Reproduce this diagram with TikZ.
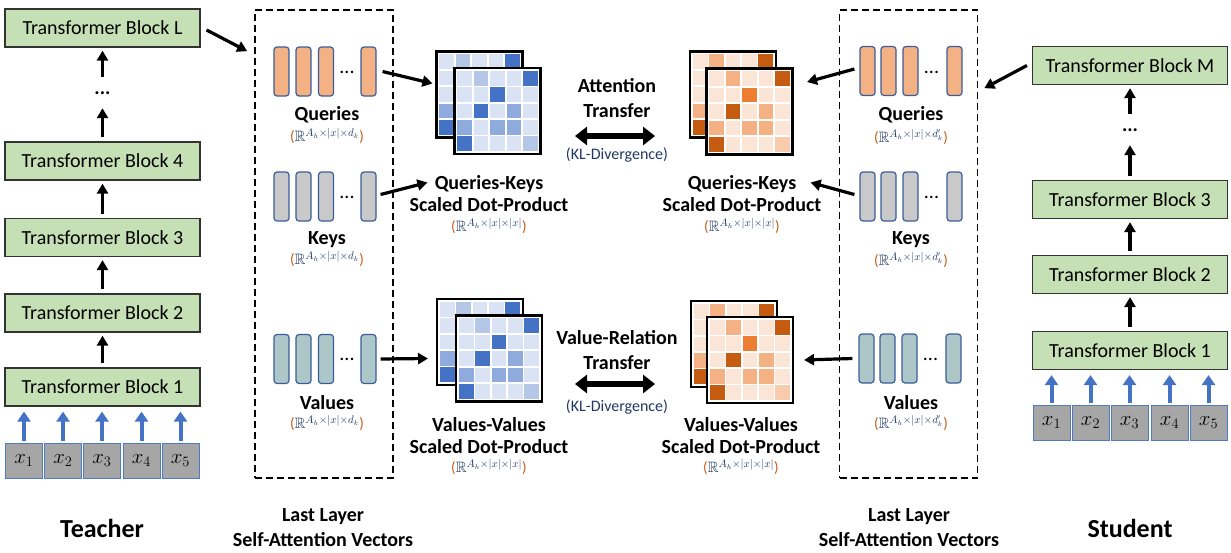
\documentclass[tikz,border=0pt]{standalone}
\usepackage{fontspec}
\setmainfont{Carlito}
\usepackage{amssymb}
\usetikzlibrary{arrows.meta, calc, positioning}

\definecolor{blockgreen}{HTML}{C5E0B4}
\definecolor{tokengray}{HTML}{A6A6A6}
\definecolor{tokenedge}{HTML}{4F7BC4}
\definecolor{arrowblue}{HTML}{4472C4}
\definecolor{baredge}{HTML}{3A5D9C}
\definecolor{qorange}{HTML}{F4B183}
\definecolor{kgray}{HTML}{C9C9C9}
\definecolor{vteal}{HTML}{ADC7C8}
\definecolor{navy}{HTML}{203864}
\definecolor{parcol}{HTML}{C55A11}
% heat map palettes (teacher = bl, student = or)
\definecolor{bl1}{HTML}{DAE3F3}
\definecolor{bl2}{HTML}{B4C7E7}
\definecolor{bl3}{HTML}{8FAADC}
\definecolor{bl4}{HTML}{4472C4}
\definecolor{bl5}{HTML}{4472C4}
\definecolor{bl6}{HTML}{B4C7E7}
\definecolor{or1}{HTML}{FBE5D6}
\definecolor{or2}{HTML}{F4B183}
\definecolor{or3}{HTML}{F4B183}
\definecolor{or4}{HTML}{C55A11}
\definecolor{or5}{HTML}{ED7D31}
\definecolor{or6}{HTML}{F8CBAD}

\tikzset{
  block/.style={draw=black!80, line width=1.2pt, fill=blockgreen, minimum width=195pt, minimum height=38pt, inner sep=0pt, font=\fontsize{20}{24}\selectfont},
  token/.style={draw=tokenedge, line width=1pt, fill=tokengray, minimum width=37pt, minimum height=35pt, inner sep=0pt, font=\fontsize{21}{24}\selectfont},
  dotsnode/.style={minimum height=24pt, inner sep=0pt, font=\bfseries\fontsize{20}{24}\selectfont},
  bardots/.style={inner sep=0pt, font=\fontsize{20}{24}\selectfont},
  vecbox/.style={draw, line width=1.6pt, dash pattern=on 7pt off 4pt, minimum width=138pt, minimum height=468pt, inner sep=0pt},
  vec/.style={draw=baredge, line width=1.2pt, rounded corners=3pt, minimum width=15pt, minimum height=49pt, inner sep=0pt},
  qbar/.style={vec, fill=qorange},
  kbar/.style={vec, fill=kgray},
  vbar/.style={vec, fill=vteal},
  mapframe/.style={draw=black, line width=2.2pt, fill=white, minimum size=86pt, inner sep=0pt, outer sep=0pt},
  title/.style={align=center, font=\bfseries\fontsize{20}{25}\selectfont},
  maptitle/.style={title, inner sep=0pt, font=\bfseries\fontsize{20}{22}\selectfont},
  dimlabel/.style={text=navy, inner sep=0pt, font=\fontsize{15}{17}\selectfont},
  kl/.style={text=navy, font=\fontsize{16}{18}\selectfont},
  rolelabel/.style={font=\bfseries\fontsize{26}{30}\selectfont},
  arr/.style={-{Triangle[length=10pt,width=11pt]}, line width=3.2pt},
  stackarr/.style={arr, shorten <=4pt, shorten >=3pt},
  inarr/.style={-{Triangle[length=10pt,width=13pt]}, line width=4pt, draw=arrowblue, shorten <=2pt, shorten >=5pt},
  dblarr/.style={{Triangle[length=12pt,width=18pt]}-{Triangle[length=12pt,width=18pt]}, line width=5.5pt},
}

\newcommand{\dimlab}[1]{\textcolor{parcol}{(}$\mathbb{R}^{#1}$\textcolor{parcol}{)}}
% 5x5 cells inside a map frame node
\newcommand{\heatcells}[2]{%
  \foreach \cells [count=\r] in {{1,2,1,1,4},{1,1,5,1,1},{1,4,1,3,1},{3,1,3,3,1},{4,1,1,1,6}}
    \foreach \c [count=\k] in \cells
      \fill[fill=#2\c] ($(#1.north west)+({(\k-1)*16.44+2.7},{(\r-1)*16.44+2.7})$) rectangle ++(14.84,14.84);
}

\begin{document}
\begin{tikzpicture}[x=1pt, y=-1pt]
\useasboundingbox (0,0) rectangle (1231,552);

% teacher
\node[block] (tL) at (102.5,28) {Transformer Block L};
\node[dotsnode] (tdots) at (102.5,93) {...};
\node[block] (t4) at (102.5,161) {Transformer Block 4};
\node[block] (t3) at (102.5,237.5) {Transformer Block 3};
\node[block] (t2) at (102.5,313) {Transformer Block 2};
\node[block] (t1) at (102.5,387) {Transformer Block 1};
\draw[stackarr] (tdots) -- (tL);
\draw[stackarr] (t4) -- (tdots);
\draw[stackarr] (t3) -- (t4);
\draw[stackarr] (t2) -- (t3);
\draw[stackarr] (t1) -- (t2);
\foreach \x [count=\i] in {24,63,102,141.5,180.5} {
  \node[token] (tx\i) at (\x,460.5) {$x_{\i}$};
  \draw[inarr] (tx\i.north) -- (tx\i.north |- t1.south);
}
\node[rolelabel] (teacher) at (102,528) {Teacher};

% teacher self-attention vectors
\node[vecbox] (boxT) at (324,244) {};
\draw[arr] ([xshift=6pt,yshift=-2pt]tL.east) -- ([xshift=-7pt,yshift=-42pt]boxT.north west);
\foreach \x [count=\i] in {281.5,303.5,326,368.5} {
  \node[qbar] (qT\i) at (\x,71.5) {};
  \node[kbar] (kT\i) at (\x,196.5) {};
  \node[vbar] (vT\i) at (\x,359) {};
}
\node[bardots] (qTdots) at (347,72) {...};
\node[bardots] (kTdots) at (347,197) {...};
\node[bardots] (vTdots) at (347,359) {...};
\node[title] (qTt) at (327,115) {Queries};
\node[dimlabel] (qTd) at (327,136) {\dimlab{A_h\times|x|\times d_k}};
\node[title] (kTt) at (327,240) {Keys};
\node[dimlabel] (kTd) at (327,259) {\dimlab{A_h\times|x|\times d_k}};
\node[title] (vTt) at (327,403) {Values};
\node[dimlabel] (vTd) at (327,423) {\dimlab{A_h\times|x|\times d_k}};
\node[title] (layT) at (323,527.5) {Last Layer\\Self-Attention Vectors};

% teacher maps
\node[mapframe] (qkTb) at (479.5,94.5) {};
\heatcells{qkTb}{bl}
\node[mapframe] (qkTf) at (497.5,111) {};
\heatcells{qkTf}{bl}
\node[maptitle] (qkTt) at (489,193.5) {Queries-Keys\\Scaled Dot-Product};
\node[dimlabel] (qkTd) at (489,226) {\dimlab{A_h\times|x|\times|x|}};
\node[mapframe] (vvTb) at (480,342) {};
\heatcells{vvTb}{bl}
\node[mapframe] (vvTf) at (499,358.5) {};
\heatcells{vvTf}{bl}
\node[maptitle] (vvTt) at (489,436) {Values-Values\\Scaled Dot-Product};
\node[dimlabel] (vvTd) at (489,467) {\dimlab{A_h\times|x|\times|x|}};
\draw[arr] ([xshift=6pt]qT4.east) -- ([xshift=-4pt,yshift=11pt]qkTb.west);
\draw[arr] ([xshift=4pt,yshift=2pt]kT4.east) -- ([xshift=18pt,yshift=11pt]qkTt.west);
\draw[arr] ([xshift=4pt]vT4.east) -- ([xshift=-9pt,yshift=-16.5pt]vvTb.west);

% transfer
\node[title] (attT) at (617,98.5) {Attention\\Transfer};
\coordinate (attL) at (575,136);
\coordinate (attR) at (655,136);
\draw[dblarr] (attL) -- (attR);
\node[kl] (attKL) at (617,155) {(KL-Divergence)};
\node[title] (valT) at (617,350.5) {Value-Relation\\Transfer};
\coordinate (valL) at (575,384);
\coordinate (valR) at (655,384);
\draw[dblarr] (valL) -- (valR);
\node[kl] (valKL) at (617,407) {(KL-Divergence)};

% student maps
\node[mapframe] (qkSb) at (733,94.5) {};
\heatcells{qkSb}{or}
\node[mapframe] (qkSf) at (749.5,111.5) {};
\heatcells{qkSf}{or}
\node[maptitle] (qkSt) at (742,193.5) {Queries-Keys\\Scaled Dot-Product};
\node[dimlabel] (qkSd) at (742,226) {\dimlab{A_h\times|x|\times|x|}};
\node[mapframe] (vvSb) at (734,344) {};
\heatcells{vvSb}{or}
\node[mapframe] (vvSf) at (750,360) {};
\heatcells{vvSf}{or}
\node[maptitle] (vvSt) at (741,436) {Values-Values\\Scaled Dot-Product};
\node[dimlabel] (vvSd) at (741,467) {\dimlab{A_h\times|x|\times|x|}};

% student self-attention vectors
\node[vecbox] (boxS) at (908.5,244) {};
\foreach \x [count=\i] in {867.5,888.5,910.5,954.5} {
  \node[qbar] (qS\i) at (\x,71) {};
  \node[kbar] (kS\i) at (\x,196.5) {};
  \node[vbar] (vS\i) at (\x-1,358.5) {};
}
\node[bardots] (qSdots) at (931.5,72) {...};
\node[bardots] (kSdots) at (931.5,197) {...};
\node[bardots] (vSdots) at (930.5,359) {...};
\node[title] (qSt) at (911,115) {Queries};
\node[dimlabel] (qSd) at (911,137) {\dimlab{A_h\times|x|\times d'_k}};
\node[title] (kSt) at (911,240) {Keys};
\node[dimlabel] (kSd) at (911,260) {\dimlab{A_h\times|x|\times d'_k}};
\node[title] (vSt) at (911,403) {Values};
\node[dimlabel] (vSd) at (911,423) {\dimlab{A_h\times|x|\times d'_k}};
\node[title] (layS) at (909,527.5) {Last Layer\\Self-Attention Vectors};
\draw[arr] ([xshift=-5pt,yshift=2pt]qS1.west) -- ([xshift=31pt,yshift=12.5pt]qkSb.east);
\draw[arr] ([xshift=-5pt,yshift=2pt]kS1.west) -- ([xshift=-11pt,yshift=11pt]qkSt.east);
\draw[arr] ([xshift=-6pt]vS1.west) -- ([xshift=11pt]vvSf.east);

% student
\node[block] (sM) at (1130,65.5) {Transformer Block M};
\node[dotsnode] (sdots) at (1130,130) {...};
\node[block] (s3) at (1130,199.5) {Transformer Block 3};
\node[block] (s2) at (1130,274.5) {Transformer Block 2};
\node[block] (s1) at (1130,350.5) {Transformer Block 1};
\draw[stackarr] (sdots) -- (sM);
\draw[stackarr] (s3) -- (sdots);
\draw[stackarr] (s2) -- (s3);
\draw[stackarr] (s1) -- (s2);
\foreach \x [count=\i] in {1051.5,1090.5,1129.5,1169.5,1208.5} {
  \node[token] (sx\i) at (\x,422.5) {$x_{\i}$};
  \draw[inarr] (sx\i.north) -- (sx\i.north |- s1.south);
}
\node[rolelabel] (student) at (1130,528) {Student};
\draw[arr] ([xshift=-5pt]sM.west) -- ([xshift=6pt,yshift=-79pt]boxS.north east);
\end{tikzpicture}
\end{document}
